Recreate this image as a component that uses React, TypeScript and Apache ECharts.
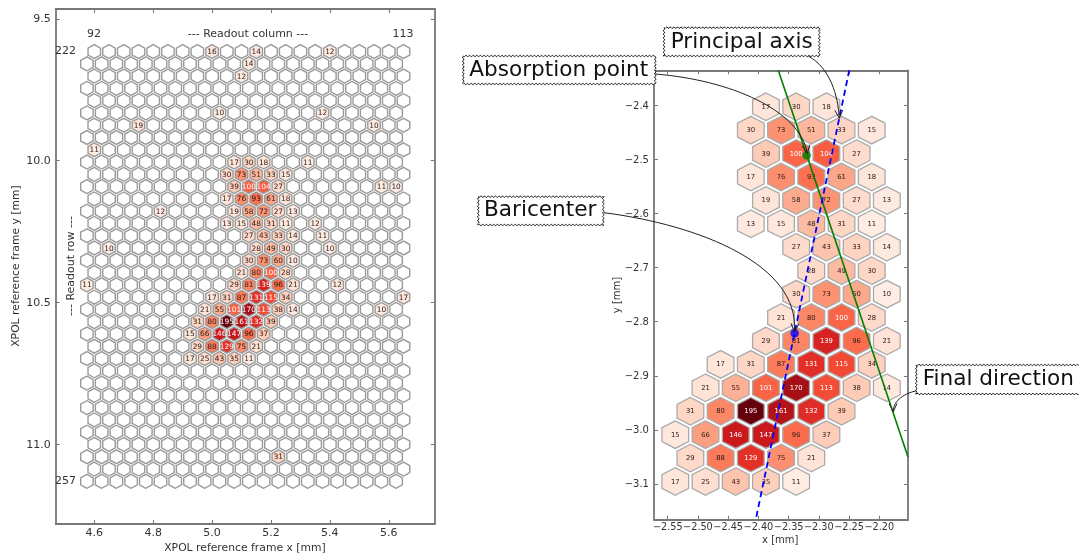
import React, { useEffect, useRef } from "react";
import * as echarts from "echarts";

// Readout rows of the main track, first column of each, and pulse heights.
const trackRows = [231, 232, 233, 234, 235, 236, 237, 238, 239, 240, 241, 242, 243, 244, 245, 246, 247];
const trackFirstColumns = [10, 9, 10, 9, 10, 9, 11, 11, 11, 10, 10, 8, 8, 7, 7, 7, 7];
const trackCounts = [
  [17, 30, 18],
  [30, 73, 51, 33, 15],
  [39, 100, 104, 27],
  [17, 76, 93, 61, 18],
  [19, 58, 72, 27, 13],
  [13, 15, 48, 31, 11],
  [27, 43, 33, 14],
  [28, 49, 30],
  [30, 73, 60, 10],
  [21, 80, 100, 28],
  [29, 81, 139, 96, 21],
  [17, 31, 87, 131, 115, 34],
  [21, 55, 101, 170, 113, 38, 14],
  [31, 80, 195, 161, 132, 39],
  [15, 66, 146, 147, 96, 37],
  [29, 88, 129, 75, 21],
  [17, 25, 43, 35, 11],
];

// Isolated noise pixels seen only in the full readout window.
const strayRows = [222, 222, 222, 223, 224, 227, 227, 228, 228, 230, 231, 233, 233, 235, 236, 237, 238, 238, 241, 241, 242, 243, 255];
const strayColumns = [8, 11, 16, 11, 10, 9, 16, 3, 19, 0, 15, 20, 21, 5, 15, 16, 1, 16, 0, 17, 21, 20, 13];
const strayCounts = [16, 14, 12, 14, 12, 10, 12, 19, 10, 11, 11, 11, 10, 12, 12, 11, 10, 10, 11, 12, 17, 10, 31];

// Axis ticks
const fullXTicks = [4.6, 4.8, 5.0, 5.2, 5.4, 5.6];
const fullYTicks = [9.5, 10.0, 10.5, 11.0];
const zoomXTicks = [-2.55, -2.5, -2.45, -2.4, -2.35, -2.3, -2.25, -2.2];
const zoomYTicks = [-3.1, -3.0, -2.9, -2.8, -2.7, -2.6, -2.5, -2.4];

// Reconstructed directions and points, in the zoomed panel's mm
const finalDirection = [[-2.3671, -2.3353], [-2.1525, -3.05]];
const principalAxis = [[-2.2497, -2.3353], [-2.4044, -3.166]];
const absorptionPoint = [[-2.3202, -2.4924]];
const baricenter = [[-2.34, -2.8214]];

const REDS = ["#fff5f0", "#fee0d2", "#fcbba1", "#fc9272", "#fb6a4a", "#ef3b2c", "#cb181d", "#a50f15", "#67000d"];
const MAX_COUNT = 195;
const FIRST_ROW = 222;
const LAST_ROW = 257;
const COLUMNS = 22;
const COL_PITCH = 0.05;
const ROW_PITCH = 0.0433;
const FONT = "DejaVu Sans";

function hexToRgb(h: string) {
  return [1, 3, 5].map((i) => parseInt(h.slice(i, i + 2), 16));
}
function reds(v: number) {
  if (v <= 0) return "#ffffff";
  const t = (Math.min(v, MAX_COUNT) / MAX_COUNT) * (REDS.length - 1);
  const i = Math.min(Math.floor(t), REDS.length - 2);
  const a = hexToRgb(REDS[i]);
  const b = hexToRgb(REDS[i + 1]);
  const f = t - i;
  return `rgb(${a.map((c, k) => Math.round(c + (b[k] - c) * f)).join(",")})`;
}

const fullX = (row: number, col: number) => (row % 2 ? 4.575 : 4.6) + COL_PITCH * col;
const fullY = (row: number) => 9.615 + ROW_PITCH * (row - FIRST_ROW);
const zoomX = (row: number, col: number) => fullX(row, col) - 7.4625;
const zoomY = (row: number) => -2.4026 - ROW_PITCH * (row - trackRows[0]);

function buildFullData() {
  const hits = new Map<string, number>();
  trackRows.forEach((r, i) =>
    trackCounts[i].forEach((v, k) => hits.set(`${r}:${trackFirstColumns[i] + k}`, v))
  );
  strayRows.forEach((r, i) => hits.set(`${r}:${strayColumns[i]}`, strayCounts[i]));
  const out: number[][] = [];
  for (let r = FIRST_ROW; r <= LAST_ROW; r++) {
    for (let c = 0; c < COLUMNS; c++) {
      out.push([fullX(r, c), fullY(r), hits.get(`${r}:${c}`) ?? 0]);
    }
  }
  return out;
}

function buildZoomData() {
  const out: number[][] = [];
  trackRows.forEach((r, i) =>
    trackCounts[i].forEach((v, k) => out.push([zoomX(r, trackFirstColumns[i] + k), zoomY(r), v]))
  );
  return out;
}

function hexRenderer(radius: number, fontSize: number, stroke: string, lineWidth: number) {
  return (_: any, api: any) => {
    const x = api.value(0);
    const y = api.value(1);
    const v = api.value(2);
    const points: number[][] = [];
    for (let k = 0; k < 6; k++) {
      const a = Math.PI / 2 + (k * Math.PI) / 3;
      points.push(api.coord([x + radius * Math.cos(a), y + radius * Math.sin(a)]));
    }
    const c = api.coord([x, y]);
    const children: any[] = [
      { type: "polygon", shape: { points }, style: { fill: reds(v), stroke, lineWidth } },
    ];
    if (v > 0) {
      children.push({
        type: "text",
        style: {
          x: c[0],
          y: c[1],
          text: String(v),
          fill: v >= 100 ? "#ffffff" : "#2a1a16",
          font: `${fontSize}px "${FONT}"`,
          align: "center",
          verticalAlign: "middle",
        },
      });
    }
    return { type: "group", children };
  };
}

function wavyBox(x0: number, y0: number, x1: number, y1: number) {
  const points: number[][] = [];
  const step = 1;
  const amp = 0.9;
  const wave = 3.6;
  let s = 0;
  const edge = (ax: number, ay: number, bx: number, by: number) => {
    const len = Math.hypot(bx - ax, by - ay);
    const ux = (bx - ax) / len;
    const uy = (by - ay) / len;
    for (let d = 0; d < len; d += step, s += step) {
      const o = amp * Math.sin((2 * Math.PI * s) / wave);
      points.push([ax + ux * d - uy * o, ay + uy * d + ux * o]);
    }
  };
  edge(x0, y0, x1, y0);
  edge(x1, y0, x1, y1);
  edge(x1, y1, x0, y1);
  edge(x0, y1, x0, y0);
  return {
    type: "polygon",
    z: 30,
    shape: { points },
    style: { fill: "#ffffff", stroke: "#111111", lineWidth: 0.9 },
  };
}

function callout(text: string, x: number, y: number) {
  return {
    type: "text",
    z: 31,
    x,
    y,
    style: { text, fill: "#111111", font: `21.6px "${FONT}"`, align: "left", verticalAlign: "middle" },
  };
}

function arrow(p0: number[], c1: number[], c2: number[], p1: number[]) {
  const ang = Math.atan2(p1[1] - c2[1], p1[0] - c2[0]);
  const head = 9;
  const spread = 0.45;
  const wing = (sign: number) => [
    p1[0] - head * Math.cos(ang + sign * spread),
    p1[1] - head * Math.sin(ang + sign * spread),
  ];
  const line = { stroke: "#222222", lineWidth: 1, fill: "none" };
  return [
    {
      type: "bezierCurve",
      z: 25,
      shape: { x1: p0[0], y1: p0[1], cpx1: c1[0], cpy1: c1[1], cpx2: c2[0], cpy2: c2[1], x2: p1[0], y2: p1[1] },
      style: line,
    },
    { type: "polyline", z: 25, shape: { points: [wing(1), p1, wing(-1)] }, style: line },
  ];
}

function note(text: string, x: number, y: number, size: number, rotate = 0, align = "center") {
  return {
    type: "text",
    z: 20,
    x,
    y,
    rotation: rotate,
    style: { text, fill: "#333333", font: `${size}px "${FONT}"`, align, verticalAlign: "middle" },
  };
}

const FRAME = "#777777";

function axisBase(ticks: number[], labelled: boolean, size: number, margin: number, fmt: (v: number) => string) {
  return {
    type: "value",
    splitLine: { show: false },
    axisLine: { show: true, onZero: false, lineStyle: { color: FRAME, width: 1.8 } },
    axisTick: { show: true, inside: true, length: 4, customValues: ticks, lineStyle: { color: FRAME, width: 1 } },
    axisLabel: {
      show: labelled,
      customValues: ticks,
      interval: 0,
      hideOverlap: false,
      showMinLabel: true,
      showMaxLabel: true,
      margin,
      color: "#333333",
      fontFamily: FONT,
      fontSize: size,
      formatter: fmt,
    },
  };
}

const fmt1 = (v: number) => v.toFixed(1);
const fmtX2 = (v: number) => v.toFixed(2).replace("-", "\u2212");
const fmtY1 = (v: number) => v.toFixed(1).replace("-", "\u2212");

export default function App() {
  const ref = useRef<HTMLDivElement>(null);
  useEffect(() => {
    const chart = echarts.init(ref.current!, undefined, { renderer: "svg", width: 1079, height: 554 });
    const fx = { min: 4.469, max: 5.756 };
    const fy = { min: 9.465, max: 11.281, inverse: true };
    const zx = { min: -2.5727, max: -2.1525 };
    const zy = { min: -3.166, max: -2.3353 };
    chart.setOption({
      animation: false,
      backgroundColor: "#ffffff",
      grid: [
        { left: 55.7, top: 9, width: 379, height: 515 },
        { left: 654, top: 70.3, width: 254, height: 449.4 },
      ],
      xAxis: [
        { ...axisBase(fullXTicks, true, 11, 3, fmt1), ...fx, gridIndex: 0, position: "bottom" },
        { ...axisBase(fullXTicks, false, 11, 3, fmt1), ...fx, gridIndex: 0, position: "top" },
        { ...axisBase(zoomXTicks, true, 9.7, 2, fmtX2), ...zx, gridIndex: 1, position: "bottom" },
        { ...axisBase(zoomXTicks, false, 9.7, 2, fmtX2), ...zx, gridIndex: 1, position: "top" },
      ],
      yAxis: [
        { ...axisBase(fullYTicks, true, 11, 5, fmt1), ...fy, gridIndex: 0, position: "left" },
        { ...axisBase(fullYTicks, false, 11, 5, fmt1), ...fy, gridIndex: 0, position: "right" },
        { ...axisBase(zoomYTicks, true, 10, 5, fmtY1), ...zy, gridIndex: 1, position: "left" },
        { ...axisBase(zoomYTicks, false, 10, 5, fmtY1), ...zy, gridIndex: 1, position: "right" },
      ],
      series: [
        {
          type: "custom",
          xAxisIndex: 0,
          yAxisIndex: 0,
          coordinateSystem: "cartesian2d",
          clip: false,
          encode: { x: 0, y: 1 },
          data: buildFullData(),
          renderItem: hexRenderer(0.0245, 7.4, "#9a9a9a", 1.4),
        },
        {
          type: "custom",
          xAxisIndex: 2,
          yAxisIndex: 2,
          coordinateSystem: "cartesian2d",
          clip: false,
          encode: { x: 0, y: 1 },
          data: buildZoomData(),
          renderItem: hexRenderer(0.0255, 6.8, "#aaaaaa", 1.3),
        },
        {
          type: "line",
          xAxisIndex: 2,
          yAxisIndex: 2,
          data: finalDirection,
          showSymbol: false,
          z: 5,
          lineStyle: { color: "#008000", width: 1.6 },
        },
        {
          type: "line",
          xAxisIndex: 2,
          yAxisIndex: 2,
          data: principalAxis,
          showSymbol: false,
          z: 5,
          lineStyle: { color: "#0000ff", width: 1.8, type: [6, 4] },
        },
        {
          type: "scatter",
          xAxisIndex: 2,
          yAxisIndex: 2,
          data: absorptionPoint,
          symbolSize: 8.5,
          z: 6,
          itemStyle: { color: "#008000" },
        },
        {
          type: "scatter",
          xAxisIndex: 2,
          yAxisIndex: 2,
          data: baricenter,
          symbolSize: 8.5,
          z: 6,
          itemStyle: { color: "#0000ff" },
        },
      ],
      graphic: [
        note("XPOL reference frame x [mm]", 245, 547, 10.8),
        note("XPOL reference frame y [mm]", 15.7, 266, 10.8, Math.PI / 2),
        note("--- Readout column ---", 248, 33.3, 11),
        note("92", 94, 33.3, 11),
        note("113", 403, 33.3, 11),
        note("222", 76, 50.7, 11, 0, "right"),
        note("257", 76, 480.7, 11, 0, "right"),
        note("--- Readout row ---", 70.7, 266, 11, Math.PI / 2),
        note("x [mm]", 780.3, 539.7, 10),
        note("y [mm]", 616, 295, 10, Math.PI / 2),
        ...arrow([808.3, 56], [830, 68], [838, 95], [839.3, 118.3]),
        ...arrow([655.3, 74], [730, 80], [800, 110], [807.3, 153.3]),
        ...arrow([604, 212.7], [700, 225], [800, 265], [794.3, 331.7]),
        ...arrow([916.7, 390.7], [902, 394], [893, 402], [893.3, 411.7]),
        wavyBox(664, 27.7, 819.3, 56),
        callout("Principal axis", 670.7, 40.7),
        wavyBox(463.3, 56, 655.3, 84),
        callout("Absorption point", 469.3, 68.3),
        wavyBox(478.3, 196.7, 603.3, 225),
        callout("Baricenter", 484, 208.7),
        wavyBox(916.3, 365, 1090, 394),
        callout("Final direction", 922.7, 377.3),
      ],
    });
    return () => chart.dispose();
  }, []);
  return (
    <div
      ref={ref}
      style={{ position: "fixed", left: 0, top: 0, width: 1079, height: 554, background: "#fff", filter: "blur(0.45px)" }}
    />
  );
}
